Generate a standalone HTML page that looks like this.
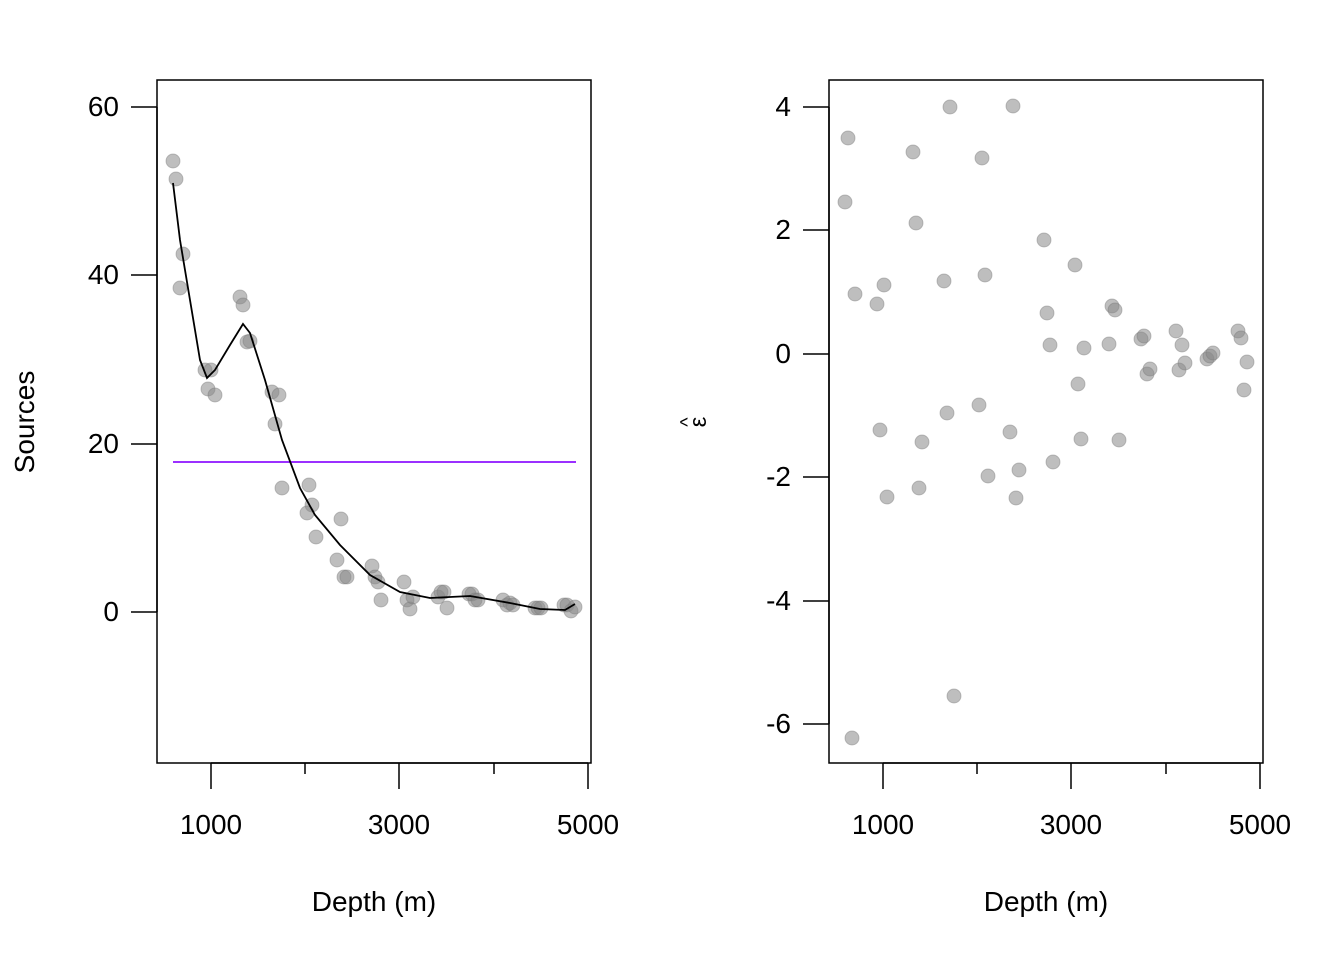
<!DOCTYPE html>
<html><head><style>body{margin:0;background:#fff}</style></head><body>
<svg width="1344" height="960" xmlns="http://www.w3.org/2000/svg" font-family="Liberation Sans, sans-serif" font-size="28" fill="#000">
<rect width="1344" height="960" fill="#fff"/>
<g fill="none" stroke="#000" stroke-width="1.5">
<rect x="157" y="80" width="434" height="683"/>
<rect x="829" y="80" width="434" height="683"/>
<path d="M211,763V789M211,763H588M305,763V774M399,763V789M494,763V774M588,763V789"/>
<path d="M883,763V789M883,763H1260M977,763V774M1071,763V789M1166,763V774M1260,763V789"/>
<path d="M157,612V107M157,107H131M157,275H131M157,444H131M157,612H131"/>
<path d="M829,724V107M829,107H803M829,230H803M829,354H803M829,477H803M829,601H803M829,724H803"/>
</g>
<g text-anchor="middle">
<text x="211" y="834">1000</text><text x="399" y="834">3000</text><text x="588" y="834">5000</text>
<text x="883" y="834">1000</text><text x="1071" y="834">3000</text><text x="1260" y="834">5000</text>
<text x="374" y="911">Depth (m)</text><text x="1046" y="911">Depth (m)</text>
</g>
<g text-anchor="end">
<text x="119" y="116">60</text><text x="119" y="284">40</text><text x="119" y="453">20</text><text x="119" y="621">0</text>
<text x="791" y="116">4</text><text x="791" y="239">2</text><text x="791" y="363">0</text><text x="791" y="486">-2</text><text x="791" y="610">-4</text><text x="791" y="733">-6</text>
</g>
<text transform="translate(34,422) rotate(-90)" text-anchor="middle">Sources</text>
<text transform="translate(706,422) rotate(-90)" text-anchor="middle" font-size="24">ε</text>
<text transform="translate(694,422) rotate(-90)" text-anchor="middle" font-size="20">^</text>
<g fill="#888" fill-opacity="0.55" stroke="#777" stroke-opacity="0.4">
<circle cx="173" cy="161" r="7"/><circle cx="176" cy="179" r="7"/><circle cx="183" cy="254" r="7"/><circle cx="180" cy="288" r="7"/><circle cx="205" cy="370" r="7"/><circle cx="211" cy="370" r="7"/><circle cx="208" cy="389" r="7"/><circle cx="215" cy="395" r="7"/><circle cx="240" cy="297" r="7"/><circle cx="243" cy="305" r="7"/><circle cx="247" cy="342" r="7"/><circle cx="250" cy="341" r="7"/><circle cx="272" cy="392" r="7"/><circle cx="279" cy="395" r="7"/><circle cx="275" cy="424" r="7"/><circle cx="282" cy="488" r="7"/><circle cx="309" cy="485" r="7"/><circle cx="312" cy="505" r="7"/><circle cx="307" cy="513" r="7"/><circle cx="316" cy="537" r="7"/><circle cx="341" cy="519" r="7"/><circle cx="337" cy="560" r="7"/><circle cx="344" cy="577" r="7"/><circle cx="347" cy="577" r="7"/><circle cx="372" cy="566" r="7"/><circle cx="375" cy="577" r="7"/><circle cx="378" cy="582" r="7"/><circle cx="381" cy="600" r="7"/><circle cx="404" cy="582" r="7"/><circle cx="407" cy="600" r="7"/><circle cx="410" cy="609" r="7"/><circle cx="413" cy="597" r="7"/><circle cx="438" cy="597" r="7"/><circle cx="441" cy="592" r="7"/><circle cx="444" cy="592" r="7"/><circle cx="447" cy="608" r="7"/><circle cx="469" cy="594" r="7"/><circle cx="472" cy="594" r="7"/><circle cx="475" cy="600" r="7"/><circle cx="478" cy="600" r="7"/><circle cx="503" cy="600" r="7"/><circle cx="507" cy="605" r="7"/><circle cx="510" cy="603" r="7"/><circle cx="513" cy="605" r="7"/><circle cx="535" cy="608" r="7"/><circle cx="538" cy="608" r="7"/><circle cx="541" cy="608" r="7"/><circle cx="564" cy="605" r="7"/><circle cx="567" cy="605" r="7"/><circle cx="571" cy="611" r="7"/><circle cx="575" cy="607" r="7"/>
<circle cx="845" cy="202" r="7"/><circle cx="848" cy="138" r="7"/><circle cx="855" cy="294" r="7"/><circle cx="852" cy="738" r="7"/><circle cx="877" cy="304" r="7"/><circle cx="880" cy="430" r="7"/><circle cx="884" cy="285" r="7"/><circle cx="887" cy="497" r="7"/><circle cx="913" cy="152" r="7"/><circle cx="916" cy="223" r="7"/><circle cx="919" cy="488" r="7"/><circle cx="922" cy="442" r="7"/><circle cx="944" cy="281" r="7"/><circle cx="947" cy="413" r="7"/><circle cx="950" cy="107" r="7"/><circle cx="954" cy="696" r="7"/><circle cx="982" cy="158" r="7"/><circle cx="979" cy="405" r="7"/><circle cx="985" cy="275" r="7"/><circle cx="988" cy="476" r="7"/><circle cx="1010" cy="432" r="7"/><circle cx="1013" cy="106" r="7"/><circle cx="1016" cy="498" r="7"/><circle cx="1019" cy="470" r="7"/><circle cx="1044" cy="240" r="7"/><circle cx="1047" cy="313" r="7"/><circle cx="1050" cy="345" r="7"/><circle cx="1053" cy="462" r="7"/><circle cx="1075" cy="265" r="7"/><circle cx="1078" cy="384" r="7"/><circle cx="1081" cy="439" r="7"/><circle cx="1084" cy="348" r="7"/><circle cx="1109" cy="344" r="7"/><circle cx="1112" cy="306" r="7"/><circle cx="1115" cy="310" r="7"/><circle cx="1119" cy="440" r="7"/><circle cx="1141" cy="339" r="7"/><circle cx="1144" cy="336" r="7"/><circle cx="1147" cy="374" r="7"/><circle cx="1150" cy="369" r="7"/><circle cx="1176" cy="331" r="7"/><circle cx="1179" cy="370" r="7"/><circle cx="1182" cy="345" r="7"/><circle cx="1185" cy="363" r="7"/><circle cx="1207" cy="359" r="7"/><circle cx="1210" cy="356" r="7"/><circle cx="1213" cy="353" r="7"/><circle cx="1238" cy="331" r="7"/><circle cx="1241" cy="338" r="7"/><circle cx="1244" cy="390" r="7"/><circle cx="1247" cy="362" r="7"/>
</g>
<line x1="173" y1="462" x2="576" y2="462" stroke="#9b30ff" stroke-width="2"/>
<polyline fill="none" stroke="#000" stroke-width="1.8" points="173,183 180,240 190,300 200,360 207,378 215,370 230,345 243,324 250,333 265,380 282,440 300,488 315,515 340,545 370,575 400,592 430,598 470,596 510,603 540,609 565,610 575,604"/>
</svg>
</body></html>
